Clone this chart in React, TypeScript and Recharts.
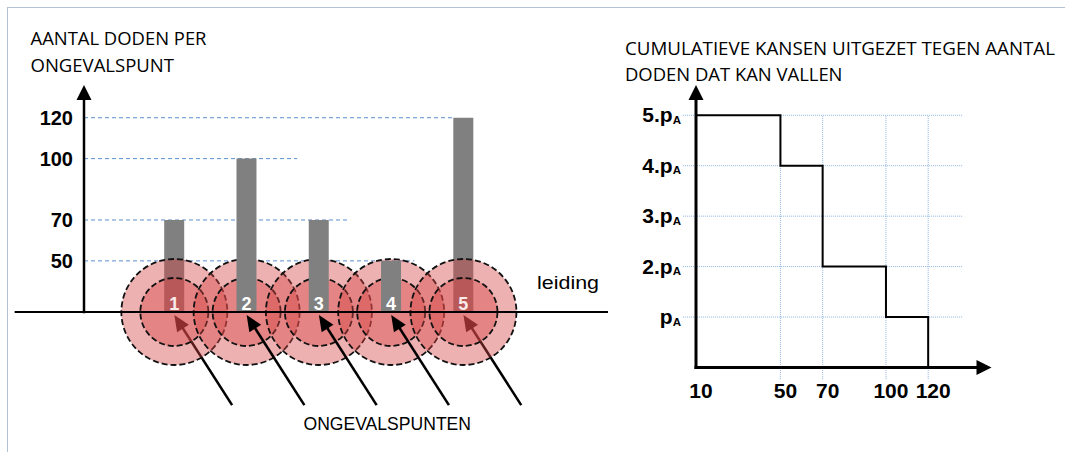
import React from "react";
import { ComposedChart, Bar, Scatter, Line, XAxis, YAxis, ReferenceLine, LabelList } from "recharts";

// left: number of deaths per accident point along the pipeline
const points = [1, 2, 3, 4, 5];
const deaths = [70, 100, 70, 50, 120];
const frontPoints = [2, 3, 4]; // these bars sit on top of the red circles
const deathTicks = [50, 70, 100, 120];
const guideEnds = [4.32, 3.42, 2.7, 4.86]; // where each dashed guide stops (x units)

// right: cumulative chance against the number of deaths
const deathSteps = [10, 50, 70, 100, 120];
const cumChance = [5, 4, 2, 1, 0];
const stepTicks = [10, 50, 70, 100, 120];
const chanceTicks = [1, 2, 3, 4, 5];

const FLOOR = 25;
const CEIL = 136;
const LX: [number, number] = [-0.25, 7];
const FONT = "'Liberation Sans', Arial, sans-serif";
const TITLE_FONT = "'Open Sans', 'Liberation Sans', sans-serif";

const leftRows = points.map((pos, i) => {
  const front = frontPoints.includes(pos);
  return { pos, base: FLOOR, back: front ? null : deaths[i], front: front ? deaths[i] : null };
});

const rightRows = deathSteps.map((x, i) => ({ x, p: cumChance[i] }));

const arrow = (w: number, len: number, half: number) => (p: any) => {
  const { x1, y1, x2, y2 } = p;
  const dx = x2 - x1;
  const dy = y2 - y1;
  const d = Math.hypot(dx, dy) || 1;
  const ux = dx / d;
  const uy = dy / d;
  const bx = x2 - ux * len;
  const by = y2 - uy * len;
  return (
    <g>
      <line x1={x1} y1={y1} x2={bx + ux * 2} y2={by + uy * 2} stroke="#000" strokeWidth={w} strokeLinecap="square" />
      <polygon
        points={`${x2},${y2} ${bx - uy * half},${by + ux * half} ${bx + uy * half},${by - ux * half}`}
        fill="#000"
      />
    </g>
  );
};

const Rings = (p: any) => (
  <g>
    <circle cx={p.cx} cy={p.cy} r={53} fill="#d64444" fillOpacity={0.42} stroke="#111" strokeWidth={1.8} strokeDasharray="6 3" />
    <circle cx={p.cx} cy={p.cy} r={34} fill="#d64444" fillOpacity={0.42} stroke="#111" strokeWidth={1.8} strokeDasharray="6 3" />
  </g>
);

const ChanceTick = (p: any) => {
  const v = p.payload.value;
  return (
    <text x={p.x} y={p.y} dy={7} textAnchor="end" fontFamily={FONT} fontWeight="bold" fontSize={21} fill="#000">
      {v === 1 ? "p" : `${v}.p`}
      <tspan fontSize={11.5} dy={1.5}>A</tspan>
    </text>
  );
};

const pointArrow = (pos: number, z: number) => (
  <ReferenceLine
    key={`arr${pos}`}
    xAxisId="a"
    segment={[{ x: pos + 0.79, y: -20 }, { x: pos, y: 23.5 }]}
    ifOverflow="visible"
    shape={arrow(2.5, 16, 7)}
    zIndex={z}
  />
);

const barLabel = (z: number, fill: string) => (
  <LabelList dataKey="pos" position="insideBottom" offset={2} fill={fill} fontSize={18} fontWeight="bold" fontFamily={FONT} zIndex={z} />
);

export default function App() {
  return (
    <div style={{ position: "absolute", left: 0, top: 0, width: 1065, height: 452, background: "#fff", fontFamily: FONT, overflow: "hidden" }}>
      <div style={{ position: "absolute", left: 7, top: 7, right: 0, bottom: 0, borderTop: "1.5px solid #b3c2d3", borderLeft: "1.5px solid #b3c2d3" }} />

      <div style={{ position: "absolute", left: 0, top: 0 }}>
        <ComposedChart width={620} height={452} data={leftRows} margin={{ top: 85, right: 12, left: 24, bottom: 140 }}>
          <XAxis xAxisId="a" type="number" dataKey="pos" domain={LX} hide />
          <XAxis xAxisId="b" type="number" dataKey="pos" domain={LX} hide />
          <YAxis
            type="number"
            domain={[FLOOR, CEIL]}
            ticks={deathTicks}
            interval={0}
            width={60}
            axisLine={false}
            tickLine={false}
            tickMargin={5}
            tick={{ fill: "#000", fontSize: 20, fontWeight: "bold", fontFamily: FONT }}
          />
          {deathTicks.map((v, i) => (
            <ReferenceLine
              key={`g${v}`}
              xAxisId="a"
              segment={[{ x: LX[0], y: v }, { x: guideEnds[i], y: v }]}
              stroke="#5b8fd0"
              strokeDasharray="4 3"
              ifOverflow="visible"
              zIndex={50}
            />
          ))}
          <Bar xAxisId="a" dataKey="back" barSize={20} fill="#808080" isAnimationActive={false} zIndex={100}>
            {barLabel(250, "#fbeaea")}
          </Bar>
          {points.filter((p) => !frontPoints.includes(p)).map((p) => pointArrow(p, 150))}
          <Scatter xAxisId="a" dataKey="base" shape={(p: any) => <Rings {...p} />} isAnimationActive={false} zIndex={200} />
          <Bar xAxisId="b" dataKey="front" barSize={20} fill="#808080" isAnimationActive={false} zIndex={300}>
            {barLabel(320, "#fff")}
          </Bar>
          {frontPoints.map((p) => pointArrow(p, 350))}
          <ReferenceLine
            xAxisId="a"
            segment={[{ x: -1.21, y: FLOOR }, { x: LX[1], y: FLOOR }]}
            stroke="#000"
            strokeWidth={2}
            ifOverflow="visible"
            zIndex={400}
          />
          <ReferenceLine
            xAxisId="a"
            segment={[{ x: LX[0], y: FLOOR }, { x: LX[0], y: CEIL }]}
            ifOverflow="visible"
            shape={arrow(2.5, 15, 7.5)}
            zIndex={400}
          />
        </ComposedChart>
      </div>

      <div style={{ position: "absolute", left: 600, top: 0 }}>
        <ComposedChart width={465} height={452} data={rightRows} margin={{ top: 85, right: 73.5, left: 36, bottom: 44.5 }}>
          <XAxis
            type="number"
            dataKey="x"
            domain={[10, 150]}
            ticks={stepTicks}
            interval={0}
            height={40}
            axisLine={false}
            tickLine={false}
            tickMargin={10}
            tick={{ fill: "#000", fontSize: 21, fontWeight: "bold", fontFamily: FONT, dx: 5 }}
          />
          <YAxis
            type="number"
            domain={[0, 5.6]}
            ticks={chanceTicks}
            interval={0}
            width={60}
            axisLine={false}
            tickLine={false}
            tickMargin={9}
            tick={(p: any) => <ChanceTick {...p} />}
          />
          {chanceTicks.map((v) => (
            <ReferenceLine
              key={`h${v}`}
              segment={[{ x: 3.8, y: v }, { x: 136.5, y: v }]}
              stroke="#8db3df"
              strokeDasharray="1 1"
              ifOverflow="visible"
              zIndex={50}
            />
          ))}
          {stepTicks.slice(1).map((v) => (
            <ReferenceLine
              key={`v${v}`}
              segment={[{ x: v, y: -0.23 }, { x: v, y: 5 }]}
              stroke="#8db3df"
              strokeDasharray="1 1"
              ifOverflow="visible"
              zIndex={50}
            />
          ))}
          <Line dataKey="p" type="stepAfter" stroke="#000" strokeWidth={2} dot={false} isAnimationActive={false} zIndex={300} />
          <ReferenceLine segment={[{ x: 10, y: 0 }, { x: 10, y: 5.6 }]} ifOverflow="visible" shape={arrow(3, 15, 7.5)} zIndex={400} />
          <ReferenceLine segment={[{ x: 10, y: 0 }, { x: 150, y: 0 }]} ifOverflow="visible" shape={arrow(3, 15, 7.5)} zIndex={400} />
        </ComposedChart>
      </div>

      <svg width={1065} height={452} style={{ position: "absolute", left: 0, top: 0, pointerEvents: "none" }}>
        <g fontFamily={TITLE_FONT} fontSize={18} fill="#000">
          <text x={30.5} y={45} textLength={176} lengthAdjust="spacingAndGlyphs">AANTAL DODEN PER</text>
          <text x={30.5} y={71.5} textLength={143.5} lengthAdjust="spacingAndGlyphs">ONGEVALSPUNT</text>
          <text x={625} y={55} textLength={430} lengthAdjust="spacingAndGlyphs">CUMULATIEVE KANSEN UITGEZET TEGEN AANTAL</text>
          <text x={625} y={81} textLength={217.5} lengthAdjust="spacingAndGlyphs">DODEN DAT KAN VALLEN</text>
        </g>
        <g fontFamily={FONT} fontSize={19} fill="#000">
          <text x={537} y={289} textLength={62} lengthAdjust="spacingAndGlyphs">leiding</text>
          <text x={303.5} y={429.5} textLength={167.5} lengthAdjust="spacingAndGlyphs">ONGEVALSPUNTEN</text>
        </g>
      </svg>
    </div>
  );
}
